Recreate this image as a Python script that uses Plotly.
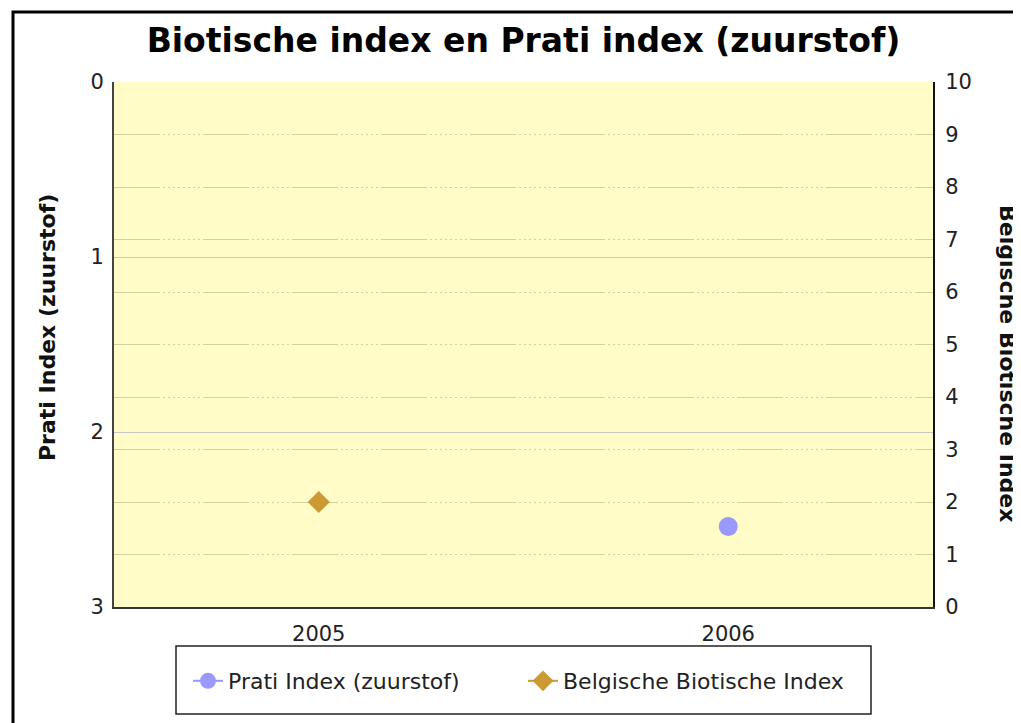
import plotly.graph_objects as go

years = ["2005", "2006"]
prati_values = [None, 2.54]
bbi_values = [2, None]

left_ticks = [0, 1, 2, 3]
right_ticks = list(range(0, 11))

# page body has an 8px margin: shift the figure by it
OFF = 8
W, H = 1021 - OFF, 723 - OFF
L, R, T, B = 114 - OFF, 933 - OFF, 82 - OFF, 607 - OFF
pw, ph = R - L, B - T

def px(x):  # reference pixel x -> paper
    return (x - OFF - L) / pw

def py(y):  # reference pixel y -> paper
    return (B - (y - OFF)) / ph

FONT = "DejaVu Sans"
dash = "46px,3px" + ",2px,3px" * 8

fig = go.Figure()
fig.add_trace(go.Scatter(
    x=years, y=prati_values, name="Prati Index (zuurstof)",
    mode="lines+markers", yaxis="y",
    marker=dict(symbol="circle", size=19, color="#9999FF"),
    line=dict(color="#9999FF", width=2),
))
fig.add_trace(go.Scatter(
    x=years, y=bbi_values, name="Belgische Biotische Index",
    mode="lines+markers", yaxis="y2",
    marker=dict(symbol="diamond", size=17, color="#CC9933"),
    line=dict(color="#CC9933", width=2),
))

fig.update_layout(
    width=W, height=H,
    margin=dict(l=L, r=W - R, t=T, b=H - B, autoexpand=False),
    paper_bgcolor="white",
    plot_bgcolor="#FFFCC8",
    font=dict(family=FONT, size=21, color="#222222"),
    title=dict(text="<b>Biotische index en Prati index (zuurstof)</b>",
               x=0.5, xref="paper", xanchor="center",
               y=1 - (40 - OFF) / H, yref="container", yanchor="middle",
               font=dict(family=FONT, size=33, color="#000000")),
    xaxis=dict(type="category", range=[-0.5, 1.5], showgrid=False,
               showline=True, linecolor="#333333", linewidth=2,
               ticks="", ticklabelstandoff=7, zeroline=False,
               tickfont=dict(size=21)),
    yaxis=dict(range=[3, 0], tickvals=left_ticks, showgrid=True,
               gridcolor="#C8C8C8", gridwidth=1,
               showline=True, linecolor="#444444", linewidth=2,
               ticks="", ticklabelstandoff=4, zeroline=False),
    yaxis2=dict(range=[0, 10], tickvals=right_ticks, overlaying="y", side="right",
                showgrid=True, gridcolor="#D4D19A", gridwidth=1, griddash=dash,
                showline=True, linecolor="#111111", linewidth=2,
                ticks="", ticklabelstandoff=6, zeroline=False),
    showlegend=True,
    legend=dict(orientation="h", x=px(188), xanchor="left",
                y=py(681), yanchor="middle", bgcolor="rgba(0,0,0,0)",
                borderwidth=0, entrywidth=290, font=dict(size=22)),
    shapes=[
        dict(type="rect", xref="paper", yref="paper",
             x0=px(176), x1=px(871), y0=py(714), y1=py(646),
             line=dict(color="#222222", width=1.5), fillcolor="rgba(0,0,0,0)"),
        dict(type="rect", xref="paper", yref="paper",
             x0=px(13), x1=px(1040), y0=py(740), y1=py(12),
             line=dict(color="#000000", width=3), fillcolor="rgba(0,0,0,0)"),
    ],
    annotations=[
        dict(text="<b>Prati Index (zuurstof)</b>", xref="paper", yref="paper",
             x=px(47), y=py(328), textangle=-90, showarrow=False,
             xanchor="center", yanchor="middle",
             font=dict(family=FONT, size=22, color="#111111")),
        dict(text="<b>Belgische Biotische Index</b>", xref="paper", yref="paper",
             x=px(1008), y=py(364), textangle=90, showarrow=False,
             xanchor="center", yanchor="middle",
             font=dict(family=FONT, size=22, color="#111111")),
    ],
)

fig.write_html("out.html")
